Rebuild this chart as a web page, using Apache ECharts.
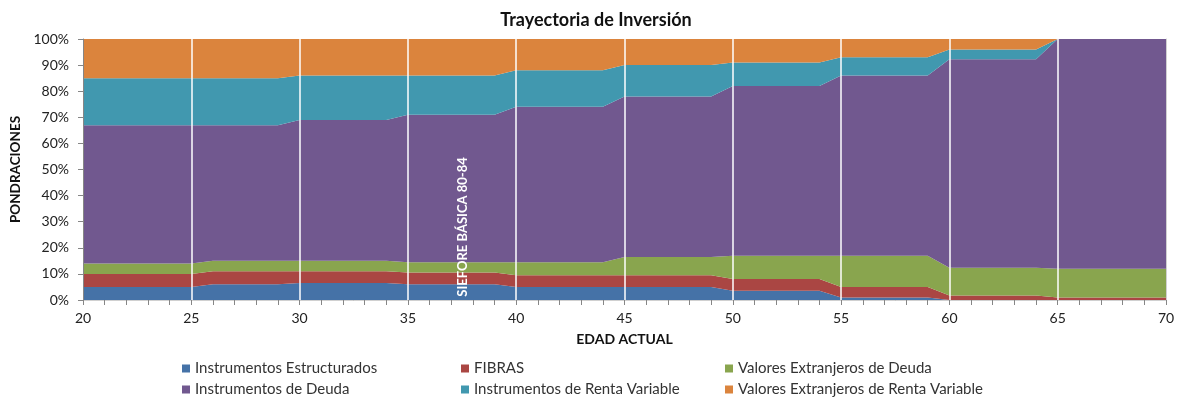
<!DOCTYPE html>
<html>
<head>
<meta charset="utf-8">
<script src="https://cdn.jsdelivr.net/npm/echarts@6/dist/echarts.min.js"></script>
<style>
  html, body { margin: 0; padding: 0; background: #fff; }
  #trayectoria { width: 1181px; height: 400px; }
</style>
</head>
<body>
<div id="trayectoria"></div>
<script>
// edad actual, un punto por año
const edades = [
  20, 21, 22, 23, 24, 25, 26, 27, 28, 29,
  30, 31, 32, 33, 34, 35, 36, 37, 38, 39,
  40, 41, 42, 43, 44, 45, 46, 47, 48, 49,
  50, 51, 52, 53, 54, 55, 56, 57, 58, 59,
  60, 61, 62, 63, 64, 65, 66, 67, 68, 69,
  70
];

// ponderaciones (%) por edad
const estructurados = [
  5, 5, 5, 5, 5, 5, 6, 6, 6, 6,
  6.5, 6.5, 6.5, 6.5, 6.5, 6, 6, 6, 6, 6,
  5, 5, 5, 5, 5, 5, 5, 5, 5, 5,
  3.5, 3.5, 3.5, 3.5, 3.5, 1, 1, 1, 1, 1,
  0, 0, 0, 0, 0, 0, 0, 0, 0, 0,
  0
];
const fibras = [
  5, 5, 5, 5, 5, 5, 5, 5, 5, 5,
  4.5, 4.5, 4.5, 4.5, 4.5, 4.5, 4.5, 4.5, 4.5, 4.5,
  4.5, 4.5, 4.5, 4.5, 4.5, 4.5, 4.5, 4.5, 4.5, 4.5,
  4.5, 4.5, 4.5, 4.5, 4.5, 4, 4, 4, 4, 4,
  1.7, 1.7, 1.7, 1.7, 1.7, 1, 1, 1, 1, 1,
  1
];
const extDeuda = [
  4, 4, 4, 4, 4, 4, 4, 4, 4, 4,
  4, 4, 4, 4, 4, 4, 4, 4, 4, 4,
  5, 5, 5, 5, 5, 7, 7, 7, 7, 7,
  9, 9, 9, 9, 9, 12, 12, 12, 12, 12,
  10.7, 10.7, 10.7, 10.7, 10.7, 11, 11, 11, 11, 11,
  11
];
const deuda = [
  53, 53, 53, 53, 53, 53, 52, 52, 52, 52,
  54, 54, 54, 54, 54, 56.5, 56.5, 56.5, 56.5, 56.5,
  59.5, 59.5, 59.5, 59.5, 59.5, 61.5, 61.5, 61.5, 61.5, 61.5,
  65, 65, 65, 65, 65, 69, 69, 69, 69, 69,
  79.8, 79.8, 79.8, 79.8, 79.8, 88, 88, 88, 88, 88,
  88
];
const rentaVariable = [
  18, 18, 18, 18, 18, 18, 18, 18, 18, 18,
  17, 17, 17, 17, 17, 15, 15, 15, 15, 15,
  14, 14, 14, 14, 14, 12, 12, 12, 12, 12,
  9, 9, 9, 9, 9, 7, 7, 7, 7, 7,
  3.8, 3.8, 3.8, 3.8, 3.8, 0, 0, 0, 0, 0,
  0
];
const extRentaVariable = [
  15, 15, 15, 15, 15, 15, 15, 15, 15, 15,
  14, 14, 14, 14, 14, 14, 14, 14, 14, 14,
  12, 12, 12, 12, 12, 10, 10, 10, 10, 10,
  9, 9, 9, 9, 9, 7, 7, 7, 7, 7,
  4, 4, 4, 4, 4, 0, 0, 0, 0, 0,
  0
];

const nombres = [
  "Instrumentos Estructurados",
  "FIBRAS",
  "Valores Extranjeros de Deuda",
  "Instrumentos de Deuda",
  "Instrumentos de Renta Variable",
  "Valores Extranjeros de Renta Variable"
];
const valores = [estructurados, fibras, extDeuda, deuda, rentaVariable, extRentaVariable];
const colores = ["#4572A7", "#AA4643", "#89A54E", "#71588F", "#4198AF", "#DB843D"];

const fuente = "Lato, 'Open Sans', sans-serif";

const series = nombres.map((nombre, i) => ({
  name: nombre,
  type: "line",
  stack: "total",
  symbol: "none",
  lineStyle: { width: 0 },
  areaStyle: { color: colores[i], opacity: 1 },
  itemStyle: { color: colores[i] },
  data: valores[i]
}));

const legendCol = (items, left) => ({
  data: items,
  orient: "vertical",
  left: left,
  top: 361,
  padding: 0,
  itemGap: 6,
  itemWidth: 8,
  itemHeight: 8,
  icon: "rect",
  textStyle: { fontFamily: fuente, fontSize: 15, color: "#333" }
});

const myChart = echarts.init(document.getElementById("trayectoria"));
const option = {
  animation: false,
  title: {
    text: "Trayectoria de Inversión",
    left: 591,
    textAlign: "center",
    top: 6,
    textStyle: { fontFamily: fuente, fontSize: 18, fontWeight: "bold", color: "#111" }
  },
  legend: [
    legendCol([nombres[0], nombres[3]], 182),
    legendCol([nombres[1], nombres[4]], 461),
    legendCol([nombres[2], nombres[5]], 725)
  ],
  grid: { left: 83, right: 15, top: 39, bottom: 100 },
  xAxis: [
    {
      type: "category",
      data: edades,
      boundaryGap: false,
      z: 5,
      name: "EDAD ACTUAL",
      nameLocation: "middle",
      nameGap: 32,
      nameTextStyle: { fontFamily: fuente, fontSize: 14, fontWeight: "bold", color: "#111" },
      axisLine: { show: true, lineStyle: { color: "#868686" } },
      axisTick: { show: true, interval: 0, length: 5, lineStyle: { color: "#868686" } },
      axisLabel: { interval: 4, fontFamily: fuente, fontSize: 14, color: "#222", margin: 11 },
      splitLine: { show: true, interval: 4, showMinLine: false, showMaxLine: false, lineStyle: { color: "#fff", width: 1.5 } }
    },
    {
      // borde superior del área
      type: "category",
      data: edades,
      boundaryGap: false,
      position: "top",
      z: 5,
      axisLine: { show: true, lineStyle: { color: "#d0d0d0" } },
      axisTick: { show: false },
      axisLabel: { show: false },
      splitLine: { show: false }
    }
  ],
  yAxis: [
    {
      type: "value",
      min: 0,
      max: 100,
      interval: 10,
      z: 6,
      name: "PONDRACIONES",
      nameLocation: "middle",
      nameGap: 58,
      nameTextStyle: { fontFamily: fuente, fontSize: 13.5, fontWeight: "bold", color: "#111" },
      axisLine: { show: true, lineStyle: { color: "#868686" } },
      axisTick: { show: true, length: 5, lineStyle: { color: "#868686" } },
      axisLabel: { fontFamily: fuente, fontSize: 14, color: "#222", margin: 14, formatter: "{value}%" },
      splitLine: { show: false }
    },
    {
      // borde derecho
      type: "value",
      position: "right",
      min: 0,
      max: 100,
      z: 5,
      axisLine: { show: true, lineStyle: { color: "#d0d0d0" } },
      axisTick: { show: false },
      axisLabel: { show: false },
      splitLine: { show: false }
    }
  ],
  graphic: [
    {
      type: "text",
      x: 463,
      y: 227,
      rotation: Math.PI / 2,
      z: 10,
      style: {
        text: "SIEFORE BÁSICA 80-84",
        fontFamily: fuente,
        fontSize: 13,
        fontWeight: "bold",
        fill: "#fff",
        align: "center",
        verticalAlign: "middle"
      }
    }
  ],
  series: series
};
myChart.setOption(option);
</script>
</body>
</html>
